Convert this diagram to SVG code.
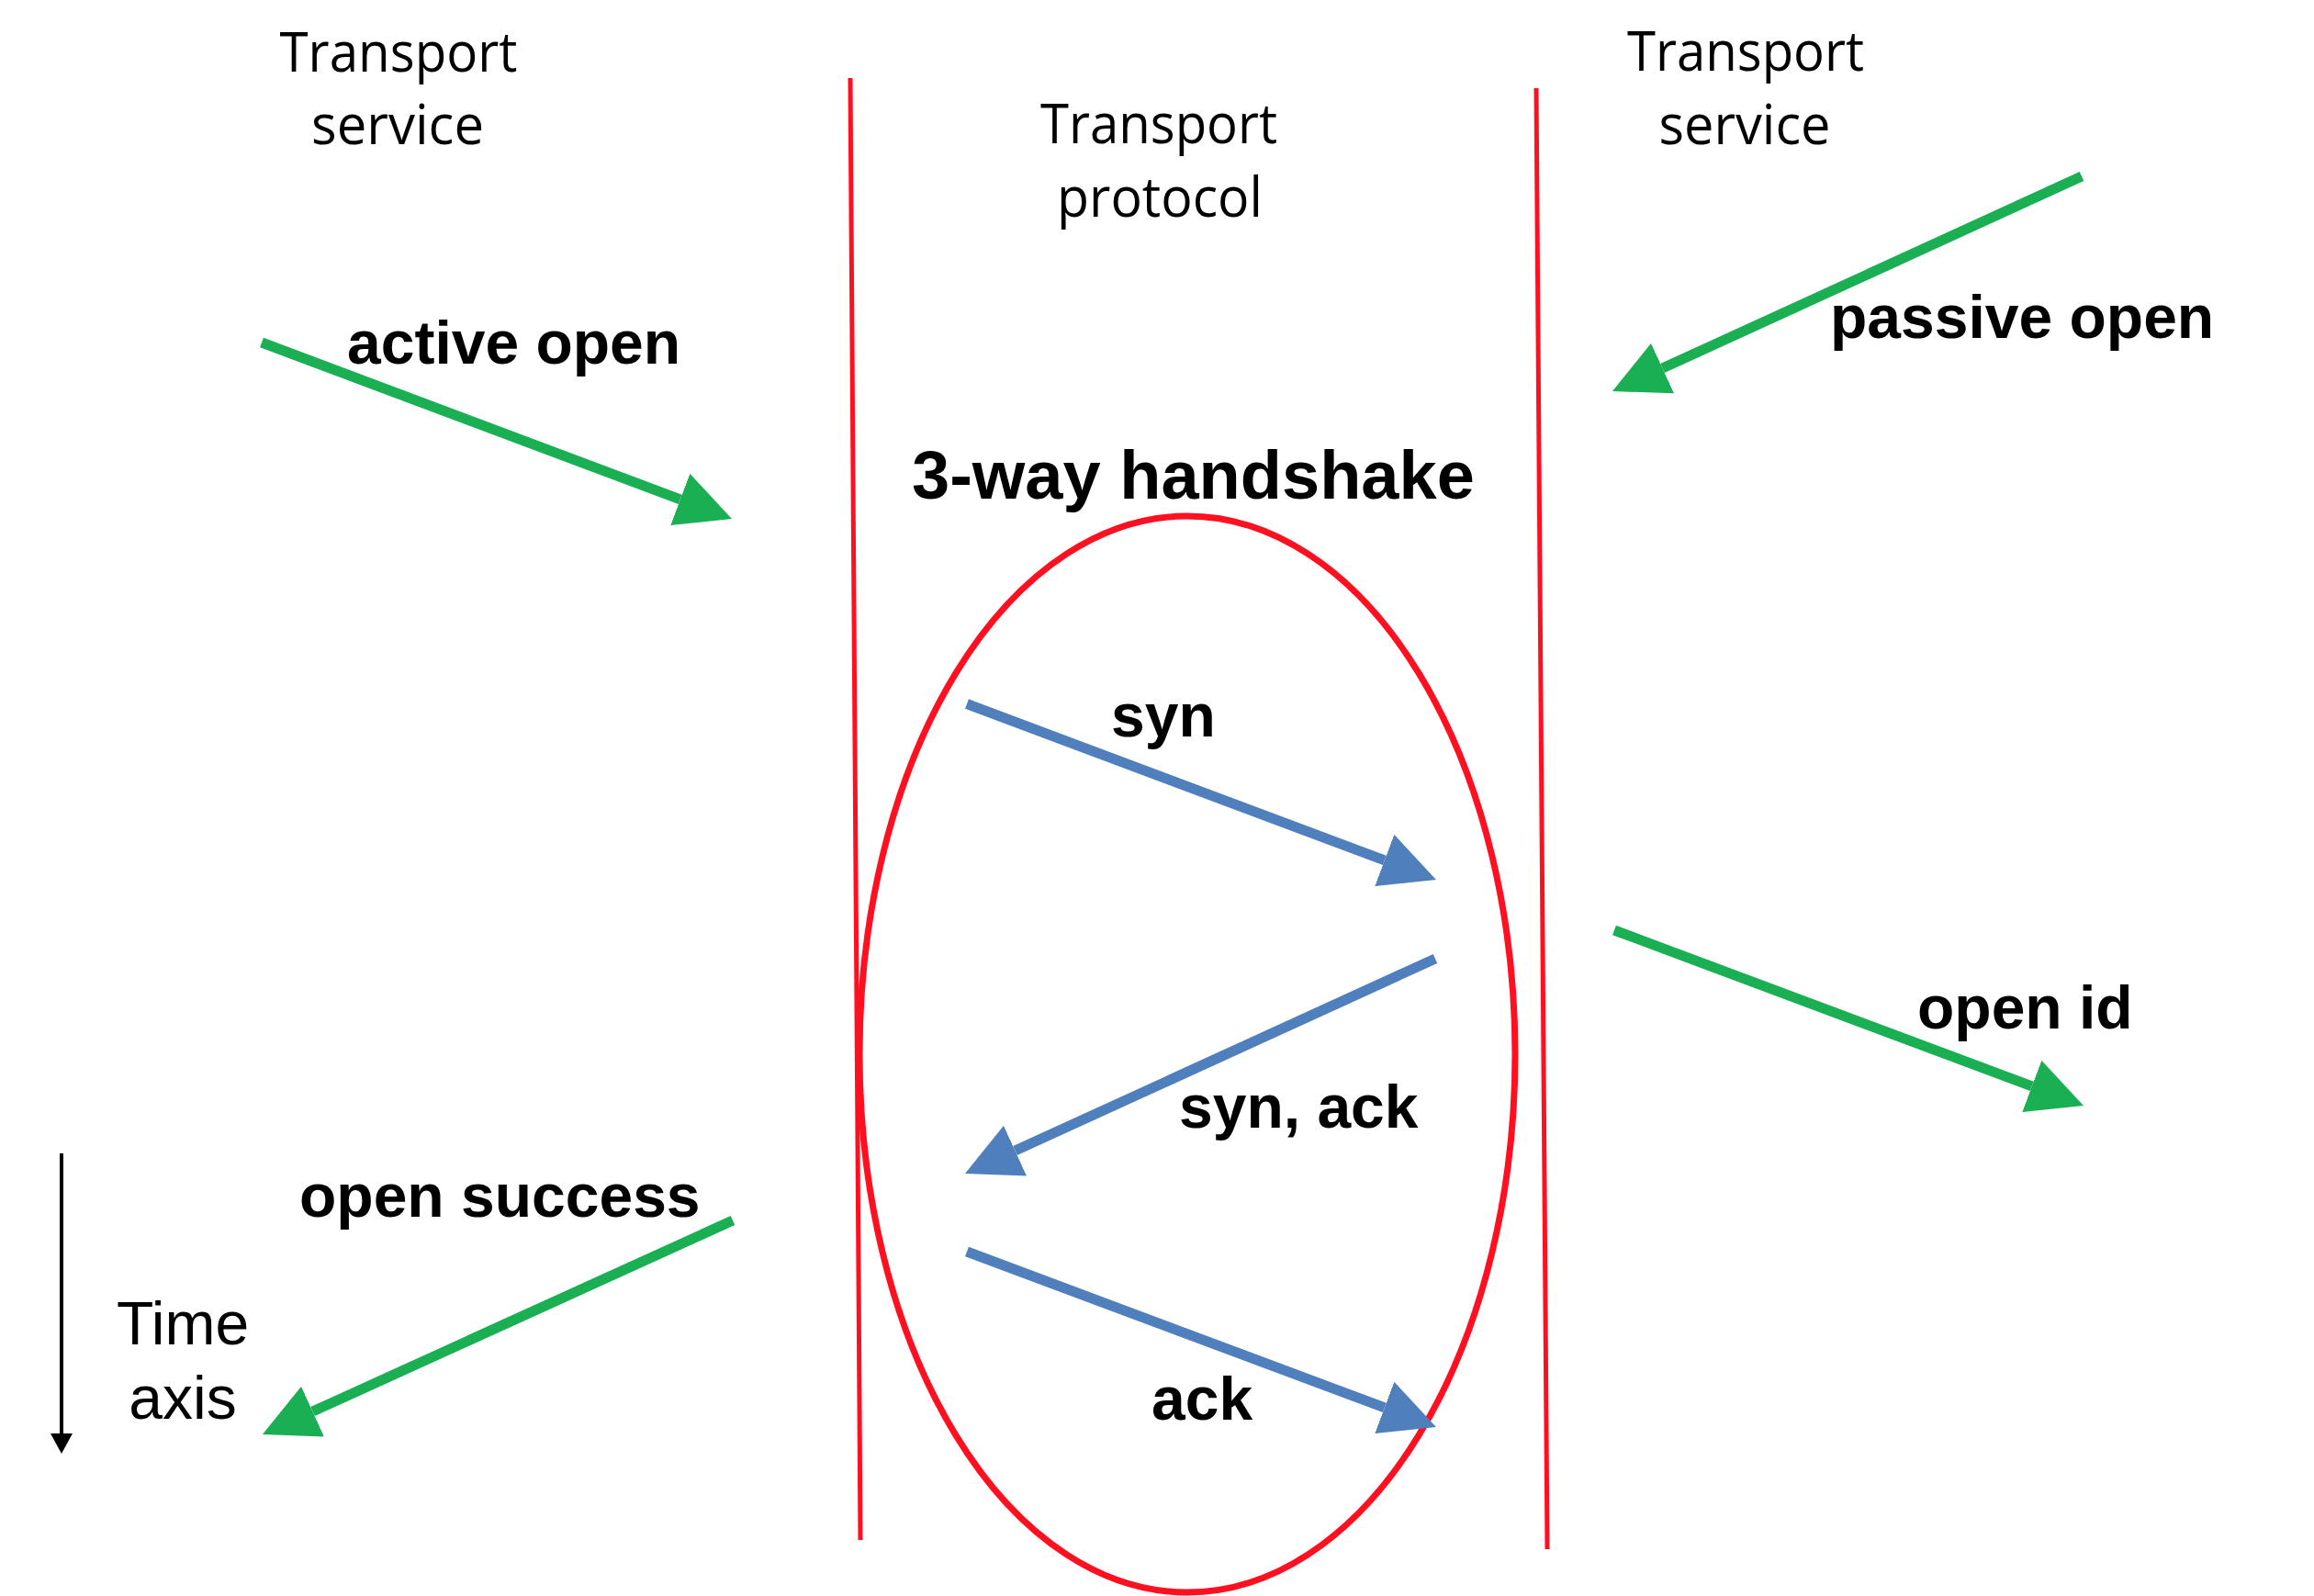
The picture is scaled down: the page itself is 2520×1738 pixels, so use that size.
<svg xmlns="http://www.w3.org/2000/svg" width="2520" height="1738" viewBox="0 0 2520 1738">
<style>
.hdr{font-family:"Open Sans","Liberation Sans",sans-serif;font-size:60px;fill:#000;text-anchor:middle}
.lbl{font-family:"Liberation Sans",Arial,sans-serif;font-size:66px;font-weight:bold;fill:#000}
.reg{font-family:"Liberation Sans",Arial,sans-serif;font-size:66px;fill:#000;text-anchor:middle}
.g{stroke:#1BAF54;stroke-width:11;fill:none}
.b{stroke:#4F7FBC;stroke-width:11;fill:none}
.red{stroke:#FF1020;stroke-width:5;fill:none}
</style>
<defs>
<marker id="ag" markerUnits="userSpaceOnUse" viewBox="0 0 60 60" markerWidth="60" markerHeight="60" refX="0" refY="30" orient="auto"><path d="M0,0 L60,30 L0,60 Z" fill="#1BAF54"/></marker>
<marker id="ab" markerUnits="userSpaceOnUse" viewBox="0 0 60 60" markerWidth="60" markerHeight="60" refX="0" refY="30" orient="auto"><path d="M0,0 L60,30 L0,60 Z" fill="#4F7FBC"/></marker>
<marker id="ak" markerUnits="userSpaceOnUse" viewBox="0 0 22 24" markerWidth="22" markerHeight="24" refX="0" refY="12" orient="auto"><path d="M0,0 L22,12 L0,24 Z" fill="#000"/></marker>
</defs>
<rect width="2520" height="1738" fill="#fff"/>
<g id="boundaries">
<line class="red" x1="926" y1="85" x2="937" y2="1677"/>
<line class="red" x1="1673" y1="96" x2="1685" y2="1687"/>
</g>
<g id="handshake">
<ellipse cx="1293" cy="1148" rx="357" ry="586" stroke="#FF1020" stroke-width="7" fill="none"/>
<text class="lbl" x="993" y="543" style="font-size:74px">3-way handshake</text>
</g>
<g id="left-service">
<text class="hdr" x="434" y="78" textLength="259" lengthAdjust="spacingAndGlyphs">Transport</text>
<text class="hdr" x="433" y="157" textLength="188" lengthAdjust="spacingAndGlyphs">service</text>
</g>
<g id="protocol">
<text class="hdr" x="1262" y="156" textLength="258" lengthAdjust="spacingAndGlyphs">Transport</text>
<text class="hdr" x="1263" y="236" textLength="224" lengthAdjust="spacingAndGlyphs">protocol</text>
</g>
<g id="right-service">
<text class="hdr" x="1901" y="77" textLength="258" lengthAdjust="spacingAndGlyphs">Transport</text>
<text class="hdr" x="1900" y="157" textLength="187" lengthAdjust="spacingAndGlyphs">service</text>
</g>
<g id="time-axis">
<line x1="67" y1="1256" x2="67" y2="1561" stroke="#000" stroke-width="4" marker-end="url(#ak)"/>
<text class="reg" x="199" y="1464">Time</text>
<text class="reg" x="199" y="1545">axis</text>
</g>
<g id="connectors">
<line class="g" x1="285" y1="373" x2="740.8" y2="543.9" marker-end="url(#ag)"/>
<line class="g" x1="2267" y1="192" x2="1810.5" y2="401.1" marker-end="url(#ag)"/>
<line class="b" x1="1053" y1="766.5" x2="1507.8" y2="936.9" marker-end="url(#ab)"/>
<line class="b" x1="1563" y1="1044" x2="1105.5" y2="1253.1" marker-end="url(#ab)"/>
<line class="b" x1="1053" y1="1363" x2="1507.8" y2="1532.9" marker-end="url(#ab)"/>
<line class="g" x1="1758" y1="1013" x2="2212.8" y2="1182.9" marker-end="url(#ag)"/>
<line class="g" x1="798" y1="1329" x2="340.5" y2="1537.1" marker-end="url(#ag)"/>
</g>
<g id="labels">
<text class="lbl" x="378" y="396">active open</text>
<text class="lbl" x="1993" y="368">passive open</text>
<text class="lbl" x="1210" y="802">syn</text>
<text class="lbl" x="1284" y="1228">syn, ack</text>
<text class="lbl" x="1254" y="1546">ack</text>
<text class="lbl" x="2088" y="1120">open id</text>
<text class="lbl" x="326" y="1325">open success</text>
</g>
</svg>
